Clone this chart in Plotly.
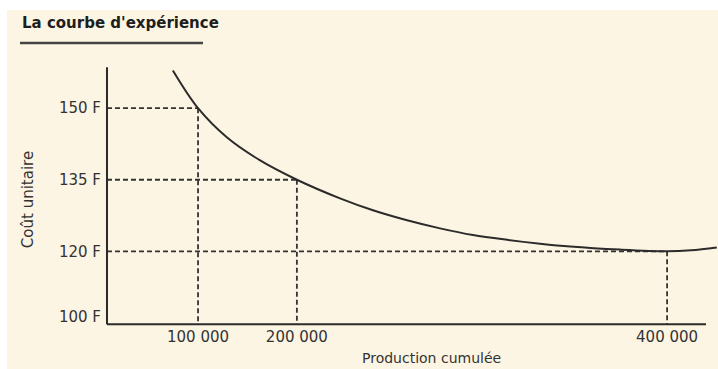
import plotly.graph_objects as go

# Experience curve: each doubling of cumulative output lowers the unit cost.
cost_levels = [150, 135, 120]                     # unit cost (F) at the marked points
prod_labels = ["100 000", "200 000", "400 000"]   # cumulative production labels
prod_pos = [15.2, 31.7, 93.5]                      # schematic positions on the horizontal axis

y_tick_vals = [106.2, 120, 135, 150]
y_tick_text = ["100 F", "120 F", "135 F", "150 F"]

# Sampled points of the curve (schematic position, unit cost)
curve_x = [11.0, 15.2, 20.0, 25.5, 31.7, 38.9, 44.4, 50.1, 55.6, 61.1,
           66.8, 72.3, 77.3, 85.6, 93.5, 97.5, 101.8]
curve_y = [157.9, 150.0, 143.9, 139.1, 135.0, 131.1, 128.6, 126.5, 124.8, 123.4,
           122.4, 121.6, 121.0, 120.35, 120.0, 120.2, 120.8]

AXIS_Y = 104.7    # level of the (truncated) horizontal axis
AXIS_TOP = 158.6
X_END = 100
Y_RANGE = [103.5, 160.1]
X_RANGE = [-1, 102]

INK = "#2b2b2b"
GUIDE = "#333333"
CREAM = "#fdf5e3"
FONT = "DejaVu Sans"

fig = go.Figure()

# Dashed guides from each marked point to both axes
for x, y in zip(prod_pos, cost_levels):
    fig.add_trace(go.Scatter(x=[0, x], y=[y, y], mode="lines",
                             line=dict(color=GUIDE, width=1.8, dash="5px,3px"),
                             hoverinfo="skip", showlegend=False))
    fig.add_trace(go.Scatter(x=[x, x], y=[y, AXIS_Y], mode="lines",
                             line=dict(color=GUIDE, width=1.8, dash="5px,3px"),
                             hoverinfo="skip", showlegend=False))

fig.add_trace(go.Scatter(x=curve_x, y=curve_y, mode="lines",
                         line=dict(color=INK, width=2, shape="spline", smoothing=1.0),
                         showlegend=False))

shapes = [
    # axes
    dict(type="line", xref="x", yref="y", x0=0, x1=X_END, y0=AXIS_Y, y1=AXIS_Y,
         line=dict(color=INK, width=2)),
    dict(type="line", xref="x", yref="y", x0=0, x1=0, y0=AXIS_Y, y1=AXIS_TOP,
         line=dict(color=INK, width=2)),
    # white page edges around the cream panel
    dict(type="rect", xref="paper", yref="paper", x0=-0.2, x1=1.05, y0=1.185, y1=1.25,
         fillcolor="white", line=dict(width=0), layer="below"),
    dict(type="rect", xref="paper", yref="paper", x0=-0.2, x1=-0.1524, y0=-0.2, y1=1.25,
         fillcolor="white", line=dict(width=0), layer="below"),
    # title underline
    dict(type="line", xref="paper", yref="paper", x0=-0.1313, x1=0.1653, y0=1.063, y1=1.063,
         line=dict(color="#444444", width=2.5)),
]

annotations = [
    dict(text="<b>La courbe d'expérience</b>", xref="paper", yref="paper",
         x=-0.1313, y=1.137, xanchor="left", yanchor="middle", showarrow=False,
         font=dict(family=FONT, size=15, color="#1e1e1e")),
    dict(text="Coût unitaire", xref="paper", yref="paper", x=-0.1183, y=0.481,
         textangle=-90, xanchor="center", yanchor="middle", showarrow=False,
         font=dict(family=FONT, size=15, color="#333333")),
    dict(text="Production cumulée", xref="paper", yref="paper", x=0.535, y=-0.105,
         xanchor="center", yanchor="middle", showarrow=False,
         font=dict(family=FONT, size=14, color="#333333")),
]

fig.update_layout(
    width=718, height=369,
    margin=dict(l=101, r=0, t=60, b=39),
    paper_bgcolor=CREAM, plot_bgcolor=CREAM,
    shapes=shapes, annotations=annotations,
    xaxis=dict(range=X_RANGE, showgrid=False, zeroline=False, showline=False,
               tickmode="array", tickvals=prod_pos, ticktext=prod_labels,
               ticks="", anchor="free", position=(AXIS_Y - Y_RANGE[0]) / (Y_RANGE[1] - Y_RANGE[0]),
               ticklabelstandoff=2,
               tickfont=dict(family=FONT, size=15, color="#333333")),
    yaxis=dict(range=Y_RANGE, showgrid=False, zeroline=False, showline=False,
               tickmode="array", tickvals=y_tick_vals, ticktext=y_tick_text,
               ticks="", anchor="free", position=(0 - X_RANGE[0]) / (X_RANGE[1] - X_RANGE[0]),
               ticklabelstandoff=6,
               tickfont=dict(family=FONT, size=15, color="#333333")),
)

fig.write_html("out.html")
